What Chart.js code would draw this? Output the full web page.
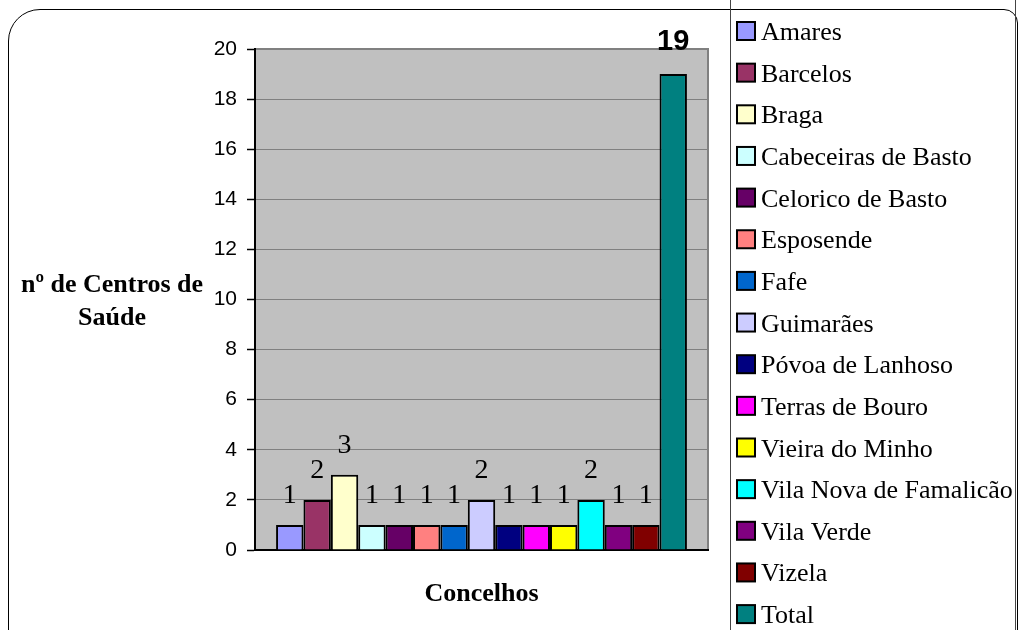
<!DOCTYPE html>
<html>
<head>
<meta charset="utf-8">
<script src="https://cdn.jsdelivr.net/npm/chart.js@4/dist/chart.umd.min.js"></script>
<style>
  html, body { margin: 0; padding: 0; background: #fff; overflow: hidden; }
  #wrap { position: relative; width: 1021px; height: 630px; overflow: hidden; }
  #frame { position: absolute; left: 8px; top: 9px; width: 1010px; height: 660px;
           border: 1.5px solid #000; border-radius: 32px 14px 0 0; box-sizing: border-box; }
  #legendBox { position: absolute; left: 730px; top: -5px; width: 286px; height: 650px;
               border: 1.5px solid #444; box-sizing: border-box; }
  canvas { position: absolute; left: 0; top: 0; }
</style>
</head>
<body>
<div id="wrap">
  <div id="frame"></div>
  <div id="legendBox"></div>
  <canvas id="chart" width="1021" height="630"></canvas>
</div>
<script>
const concelhos = ['Amares', 'Barcelos', 'Braga', 'Cabeceiras de Basto', 'Celorico de Basto',
  'Esposende', 'Fafe', 'Guimarães', 'Póvoa de Lanhoso', 'Terras de Bouro', 'Vieira do Minho',
  'Vila Nova de Famalicão', 'Vila Verde', 'Vizela', 'Total'];
const centros = [1, 2, 3, 1, 1, 1, 1, 2, 1, 1, 1, 2, 1, 1, 19];
const colors = ['#9999FF', '#993366', '#FFFFCC', '#CCFFFF', '#660066', '#FF8080', '#0066CC',
  '#CCCCFF', '#000080', '#FF00FF', '#FFFF00', '#00FFFF', '#800080', '#800000', '#008080'];
const yTitle = ['nº de Centros de', 'Saúde'];
const xTitle = 'Concelhos';

const serif = "'Liberation Serif', 'Times New Roman', serif";
const sans = "'Liberation Sans', Arial, sans-serif";

// grey plot area + its outline
const plotBg = {
  id: 'plotBg',
  beforeDraw(chart) {
    const { ctx, chartArea: a } = chart;
    ctx.save();
    ctx.fillStyle = '#C0C0C0';
    ctx.fillRect(a.left, a.top, a.right - a.left, a.bottom - a.top);
    ctx.strokeStyle = '#808080';
    ctx.lineWidth = 2;
    ctx.strokeRect(a.left, a.top, a.right - a.left, a.bottom - a.top);
    ctx.restore();
  }
};

// values above bars, axis titles, legend
const extras = {
  id: 'extras',
  afterDraw(chart) {
    const { ctx, chartArea: a } = chart;
    ctx.save();
    ctx.fillStyle = '#000';
    ctx.textAlign = 'center';
    ctx.textBaseline = 'alphabetic';
    chart.data.datasets.forEach((ds, i) => {
      const bar = chart.getDatasetMeta(i).data[0];
      const last = i === chart.data.datasets.length - 1;
      ctx.font = last ? 'bold 29px ' + sans : '28px ' + serif;
      ctx.fillText(String(ds.data[0]), bar.x, bar.y - (last ? 24 : 22));
    });

    ctx.font = 'bold 26px ' + serif;
    yTitle.forEach((t, k) => ctx.fillText(t, 112, 292 + k * 33));
    ctx.fillText(xTitle, (a.left + a.right) / 2, 601);

    ctx.textAlign = 'left';
    ctx.font = '26px ' + serif;
    chart.data.datasets.forEach((ds, i) => {
      const cy = 31 + i * 41.65;
      ctx.fillStyle = ds.backgroundColor;
      ctx.fillRect(737, cy - 9, 18, 18);
      ctx.strokeStyle = '#000';
      ctx.lineWidth = 2;
      ctx.strokeRect(737, cy - 9, 18, 18);
      ctx.fillStyle = '#000';
      ctx.fillText(ds.label, 761, cy + 9);
    });
    ctx.restore();
  }
};

new Chart(document.getElementById('chart'), {
  type: 'bar',
  data: {
    labels: [''],
    datasets: concelhos.map((c, i) => ({
      label: c,
      data: [centros[i]],
      backgroundColor: colors[i],
      borderColor: '#000',
      borderWidth: 2,
      borderSkipped: 'start'
    }))
  },
  options: {
    responsive: false,
    animation: false,
    devicePixelRatio: 1,
    layout: { padding: { left: 0, top: 49, right: 313, bottom: 0 } },
    datasets: { bar: { categoryPercentage: 0.907, barPercentage: 1 } },
    plugins: { legend: { display: false }, tooltip: { enabled: false } },
    scales: {
      x: {
        grid: { display: false },
        ticks: { display: false },
        border: { color: '#000', width: 2 },
        afterFit(s) { s.height = 80; }
      },
      y: {
        min: 0,
        max: 20,
        ticks: { stepSize: 2, color: '#000', padding: 10, font: { family: sans, size: 21 } },
        grid: { color: '#808080', lineWidth: 1, tickColor: '#000', tickLength: 8, tickWidth: 1.5 },
        border: { color: '#000', width: 2 },
        afterFit(s) { s.width = 255; }
      }
    }
  },
  plugins: [plotBg, extras]
});
</script>
</body>
</html>
